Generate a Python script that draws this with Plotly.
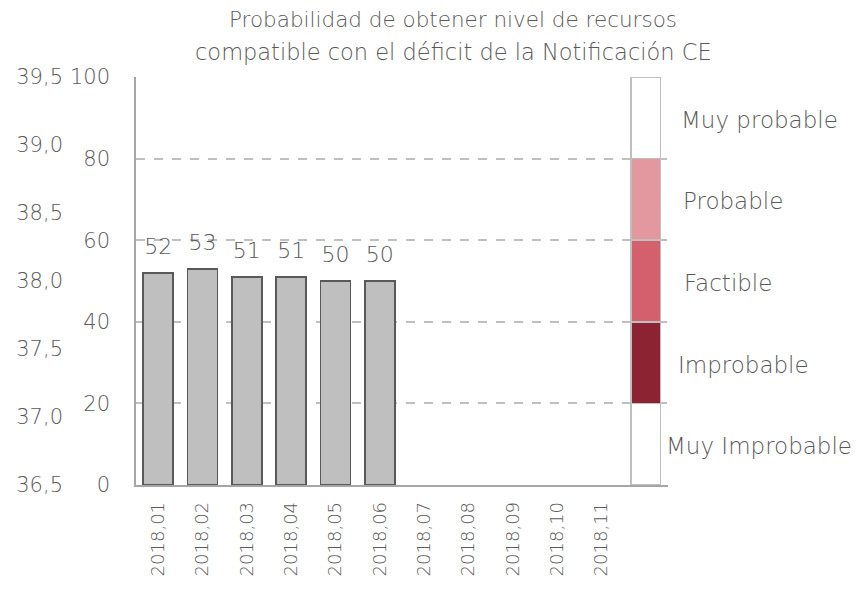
import plotly.graph_objects as go

categories = ["2018,01", "2018,02", "2018,03", "2018,04", "2018,05", "2018,06",
              "2018,07", "2018,08", "2018,09", "2018,10", "2018,11", " "]
values = [52, 53, 51, 51, 50, 50]
value_labels = ["52", "53", "51", "51", "50", "50"]

band_names = ["Muy Improbable", "Improbable", "Factible", "Probable", "Muy probable"]
band_sizes = [20, 20, 20, 20, 20]
band_colors = ["#FFFFFF", "#8B2332", "#D4606E", "#E3979F", "#FFFFFF"]

sec_ticks = [36.5, 37.0, 37.5, 38.0, 38.5, 39.0, 39.5]
sec_labels = ["36,5", "37,0", "37,5", "38,0", "38,5", "39,0", "39,5"]

title_lines = ["Probabilidad de obtener nivel de recursos",
               "compatible con el déficit de la Notificación CE"]

FONT = "DejaVu Sans"
WT = 200
TXT = "#595959"
OFF = 8  # page body margin offset
W, H = 867 - 2 * OFF, 590 - 2 * OFF
# plot area in reference pixels: left 136, right 668, top 77, bottom 485
ML = 20 - OFF
MT = 77 - OFF
MR = W - (668 - OFF)
MB = H - (485 - OFF)
pw = W - ML - MR
ph = H - MT - MB

def px2paper(px):
    return (px - OFF - ML) / pw

def py2paper(py):
    return 1 - (py - OFF - MT) / ph

fig = go.Figure()

fig.add_trace(go.Bar(
    x=categories[:len(values)], y=values, width=0.68,
    marker=dict(color="#BFBFBF", line=dict(color="#595959", width=1.5)),
    hoverinfo="skip", showlegend=False,
))

for name, size, col in zip(band_names, band_sizes, band_colors):
    fig.add_trace(go.Bar(
        x=[categories[-1]], y=[size], width=0.66, name=name,
        marker=dict(color=col, line=dict(color="#BFBFBF", width=1.5)),
        hoverinfo="skip", showlegend=False,
    ))

# data labels above bars
fig.add_trace(go.Scatter(
    x=categories[:len(values)], y=[v + 3.3 for v in values], mode="text",
    text=value_labels, textposition="top center",
    textfont=dict(family=FONT, size=22, color=TXT, weight=WT),
    hoverinfo="skip", showlegend=False, cliponaxis=False,
))

# invisible trace for secondary axis
fig.add_trace(go.Scatter(x=[categories[0]], y=[sec_ticks[0]], yaxis="y2",
                         mode="markers", marker=dict(opacity=0),
                         hoverinfo="skip", showlegend=False))

# band labels
label_left_px = [664, 676, 682, 681, 679]
cum = 0
for name, size, lx in zip(band_names, band_sizes, label_left_px):
    mid = cum + size / 2
    cum += size
    fig.add_annotation(
        x=px2paper(lx), xref="paper", xanchor="left",
        y=mid, yref="y", yanchor="middle", yshift=-2,
        text=name, showarrow=False,
        font=dict(family=FONT, size=23, color=TXT, weight=WT),
    )

# title (two lines)
for line, ly, fs in zip(title_lines, [19, 52], [21.5, 22.5]):
    fig.add_annotation(
        x=px2paper(453), xref="paper", xanchor="center",
        y=py2paper(ly), yref="paper", yanchor="middle",
        text=line, showarrow=False,
        font=dict(family=FONT, size=fs, color=TXT, weight=WT),
    )

fig.update_layout(
    width=W, height=H,
    margin=dict(l=ML, r=MR, t=MT, b=MB),
    paper_bgcolor="white", plot_bgcolor="white",
    barmode="stack",
    font=dict(family=FONT, color=TXT),
    xaxis=dict(
        domain=[px2paper(136), 1], type="category",
        categoryorder="array", categoryarray=categories,
        range=[-0.5, len(categories) - 0.5], autorange=False,
        automargin=False,
        tickangle=-90, showline=True, linecolor="#A6A6A6", linewidth=1.5,
        ticks="outside", ticklen=8, tickcolor="rgba(0,0,0,0)",
        tickfont=dict(family=FONT, size=18, color=TXT, weight=WT),
        showgrid=False,
    ),
    yaxis=dict(
        range=[0, 100], tickvals=[0, 20, 40, 60, 80, 100],
        automargin=False,
        showline=True, linecolor="#A6A6A6", linewidth=1.5,
        showgrid=True, gridcolor="#BFBFBF", griddash="dash", gridwidth=1.5,
        zeroline=False,
        ticks="outside", ticklen=20, tickcolor="rgba(0,0,0,0)",
        tickfont=dict(family=FONT, size=21, color=TXT, weight=WT),
    ),
    yaxis2=dict(
        range=[36.5, 39.5], tickvals=sec_ticks, ticktext=sec_labels,
        automargin=False,
        overlaying="y", anchor="free", position=px2paper(63), side="left",
        showline=False, showgrid=False, zeroline=False,
        ticks="", tickfont=dict(family=FONT, size=21, color=TXT, weight=WT),
    ),
)

fig.write_html("out.html")
